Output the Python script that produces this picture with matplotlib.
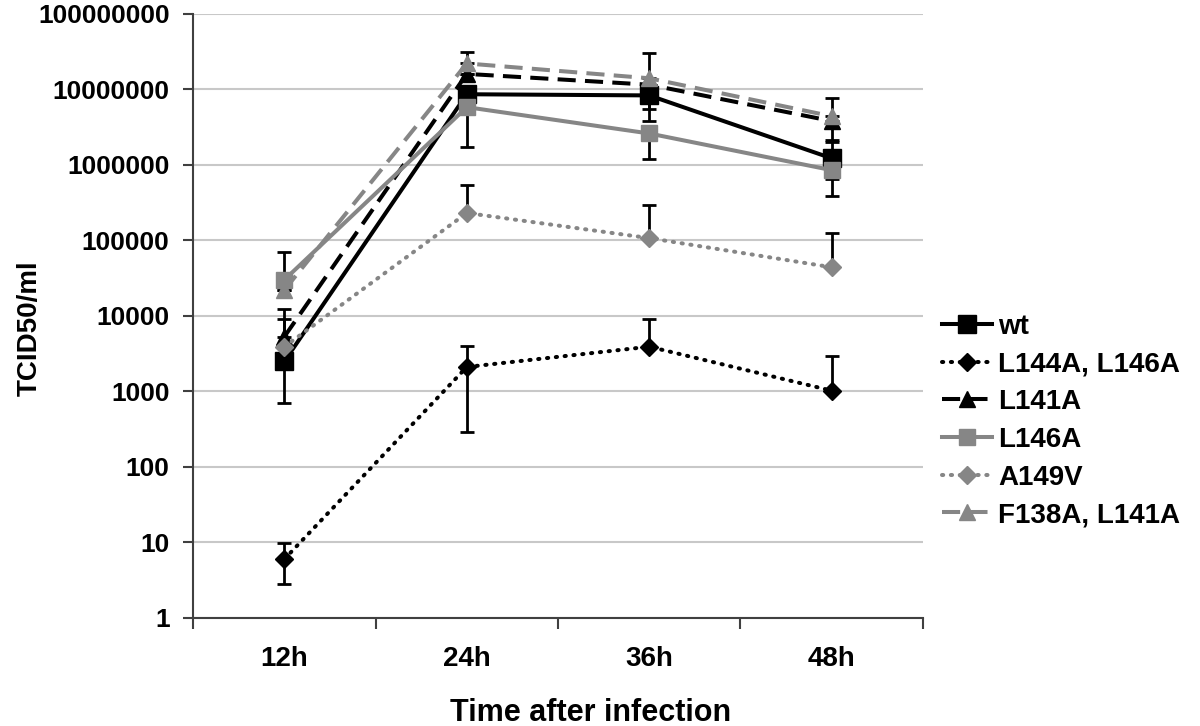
import matplotlib
matplotlib.use("Agg")
import matplotlib.pyplot as plt

plt.rcParams["font.family"] = ["Liberation Sans", "DejaVu Sans"]
plt.rcParams["font.weight"] = "bold"

times = ["12h", "24h", "36h", "48h"]

wt = [2500, 8.6e6, 8.3e6, 1.22e6]
wt_lo = [710, 8.6e6, 3.8e6, 6.5e5]
wt_hi = [1.23e4, 8.6e6, 8.3e6, 2.0e6]

l144_l146 = [6.0, 2100, 3900, 1020]
l144_l146_lo = [2.8, 290, 3900, 1020]
l144_l146_hi = [9.8, 4000, 9100, 2900]

l141 = [5300, 1.6e7, 1.15e7, 3.8e6]
l141_lo = [5300, 1.6e7, 5.5e6, 2.1e6]
l141_hi = [9100, 1.6e7, 1.15e7, 3.8e6]

l146 = [3.0e4, 5.8e6, 2.6e6, 8.5e5]
l146_lo = [3.0e4, 1.7e6, 1.2e6, 3.9e5]
l146_hi = [6.9e4, 5.8e6, 2.6e6, 8.5e5]

a149v = [3900, 2.3e5, 1.07e5, 4.4e4]
a149v_lo = [3900, 2.3e5, 1.07e5, 4.4e4]
a149v_hi = [3900, 5.4e5, 2.9e5, 1.26e5]

f138_l141 = [2.2e4, 2.2e7, 1.4e7, 4.4e6]
f138_l141_lo = [2.2e4, 2.2e7, 1.4e7, 4.4e6]
f138_l141_hi = [2.2e4, 3.1e7, 3.0e7, 7.7e6]

GRAY = "#868686"
series = [
    ("wt", wt, wt_lo, wt_hi, "black", "-", "s", 13),
    ("L144A, L146A", l144_l146, l144_l146_lo, l144_l146_hi, "black", ":", "D", 9),
    ("L141A", l141, l141_lo, l141_hi, "black", "--", "^", 11),
    ("L146A", l146, l146_lo, l146_hi, GRAY, "-", "s", 12),
    ("A149V", a149v, a149v_lo, a149v_hi, GRAY, ":", "D", 9),
    ("F138A, L141A", f138_l141, f138_l141_lo, f138_l141_hi, GRAY, "--", "^", 12),
]

fig = plt.figure(figsize=(12, 7.26), dpi=100)
ax = fig.add_axes([0.161, 0.149, 0.608, 0.832])

x = list(range(len(times)))
for name, vals, lo, hi, color, ls, mk, ms in series:
    yerr = [[v - l for v, l in zip(vals, lo)], [h - v for v, h in zip(vals, hi)]]
    ax.errorbar(x, vals, yerr=yerr, fmt="none", ecolor="black", elinewidth=2,
                capsize=5, capthick=2, zorder=2)
    line, = ax.plot(x, vals, color=color, linestyle=ls, marker=mk, markersize=ms,
                    linewidth=2.9, label=name, zorder=3)
    if ls == "--":
        line.set_dashes((4.5, 2.3))
    elif ls == ":":
        line.set_dashes((0.3, 1.9))
        line.set_dash_capstyle("round")

ax.set_yscale("log")
ax.set_ylim(1, 1e8)
ax.set_yticks([10 ** k for k in range(9)])
ax.set_yticklabels([str(10 ** k) for k in range(9)])
ax.minorticks_off()
ax.set_xlim(-0.5, 3.5)
ax.set_xticks(x)
ax.set_xticklabels(times)
ax.set_xticks([-0.5, 0.5, 1.5, 2.5, 3.5], minor=True)
ax.tick_params(axis="x", which="major", length=0, pad=20, labelsize=20)
ax.tick_params(axis="x", which="minor", length=8, width=1.5, color="#404040")
ax.tick_params(axis="y", length=7, width=1.5, color="#404040", labelsize=19, pad=10)

ax.grid(axis="y", color="#c8c8c8", linewidth=1.5)
ax.set_axisbelow(True)
for side in ("top", "right"):
    ax.spines[side].set_visible(False)
for side in ("left", "bottom"):
    ax.spines[side].set_color("#404040")
    ax.spines[side].set_linewidth(1.5)

fig.text(0.025, 0.548, "TCID50/ml", rotation=90, ha="center", va="center",
         fontsize=20, fontweight="bold")
fig.text(0.492, 0.018, "Time after infection", ha="center", va="center",
         fontsize=22, fontweight="bold")

leg = ax.legend(loc="upper left", bbox_to_anchor=(0.776, 0.583), bbox_transform=fig.transFigure,
                frameon=False, fontsize=20, handlelength=1.8, handletextpad=0.2,
                labelspacing=0.42, borderaxespad=0)
for t in leg.get_texts():
    t.set_fontweight("bold")

fig.savefig("out.png", dpi=100)
